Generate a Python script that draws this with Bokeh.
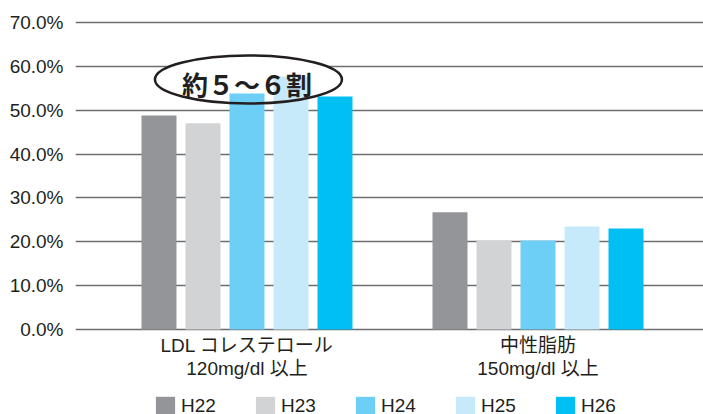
from bokeh.plotting import figure
from bokeh.models import (FixedTicker, PrintfTickFormatter, Legend, LegendItem, Range1d)
from bokeh.core.properties import value
from bokeh.embed import file_html
from bokeh.resources import INLINE

# ---- data ----
categories = ["LDL コレステロール\n120mg/dl 以上", "中性脂肪\n150mg/dl 以上"]
years = ["H22", "H23", "H24", "H25", "H26"]
H22 = [48.8, 26.7]
H23 = [47.0, 20.2]
H24 = [53.8, 20.3]
H25 = [57.7, 23.5]
H26 = [53.1, 23.0]
series = [H22, H23, H24, H25, H26]
colors = ["#939598", "#d1d3d4", "#6dcff6", "#c7eafb", "#00bff3"]
y_ticks = [0, 10, 20, 30, 40, 50, 60, 70]
note_text = "約５～６割"
note_group = 0
note_y = 57.0

# ---- layout constants ----
group_x = list(range(len(categories)))
bar_step = 44 / 291
bar_w = 35 / 291
LATIN = "Liberation Sans, Noto Sans CJK JP"
TXT = "#231f20"
FS = "19px"

p = figure(width=703, height=414, output_backend="svg", toolbar_location=None,
           x_range=Range1d(-0.5893, 1.5687), y_range=Range1d(-19.39, 70.9),
           min_border_left=75, min_border_right=0, min_border_top=18,
           min_border_bottom=0)
p.outline_line_color = None
p.xgrid.grid_line_color = None
p.ygrid.grid_line_color = "#6d6e71"
p.ygrid.grid_line_width = 1.6
p.ygrid.level = "image"
p.ygrid.ticker = FixedTicker(ticks=y_ticks)

# white backing of the note (hides grid lines but not the bars)
p.ellipse(x=[note_group + 0.005], y=[note_y], width=187, height=48,
          width_units="screen", height_units="screen",
          fill_color="white", line_color=None, level="underlay")

renderers = []
n = len(series)
for i, (vals, col) in enumerate(zip(series, colors)):
    xs = [g + (i - (n - 1) / 2) * bar_step for g in group_x]
    r = p.vbar(x=xs, top=vals, width=bar_w, fill_color=col, line_color=None)
    renderers.append(r)

p.ellipse(x=[note_group + 0.005], y=[note_y], width=187, height=48,
          width_units="screen", height_units="screen",
          fill_color=None, line_color=TXT, line_width=2.5, level="overlay")
p.text(x=[note_group], y=[note_y - 0.9], text=[note_text], text_align="center",
       text_baseline="middle", text_font_size="26px",
       text_font=value("Noto Sans CJK JP"), text_font_style="bold",
       text_color=TXT, level="overlay")

# y axis
p.yaxis.ticker = FixedTicker(ticks=y_ticks)
p.yaxis.formatter = PrintfTickFormatter(format="%.1f%%")
p.yaxis.axis_line_color = None
p.yaxis.major_tick_line_color = None
p.yaxis.minor_tick_line_color = None
p.yaxis.major_label_text_font_size = FS
p.yaxis.major_label_text_font = LATIN
p.yaxis.major_label_text_color = TXT
p.yaxis.major_label_standoff = 6

# x axis, pinned at 0%
p.xaxis.fixed_location = 0
p.xaxis.ticker = FixedTicker(ticks=group_x)
p.xaxis.major_label_overrides = {g: c for g, c in zip(group_x, categories)}
p.xaxis.axis_line_color = None
p.xaxis.major_tick_line_color = None
p.xaxis.minor_tick_line_color = None
p.xaxis.major_label_text_font_size = FS
p.xaxis.major_label_text_font = LATIN
p.xaxis.major_label_text_color = TXT
p.xaxis.major_label_text_line_height = 1.05
p.xaxis.major_label_standoff = 0

legend = Legend(items=[LegendItem(label=y, renderers=[r]) for y, r in zip(years, renderers)],
                orientation="horizontal", location=(78, -3),
                glyph_width=24, glyph_height=23, label_standoff=4,
                label_width=40, spacing=32, padding=0, margin=0,
                border_line_color=None, background_fill_alpha=0,
                label_text_font_size=FS, label_text_font=LATIN,
                label_text_color=TXT)
p.add_layout(legend)

open("out.html", "w").write(file_html(p, INLINE))
